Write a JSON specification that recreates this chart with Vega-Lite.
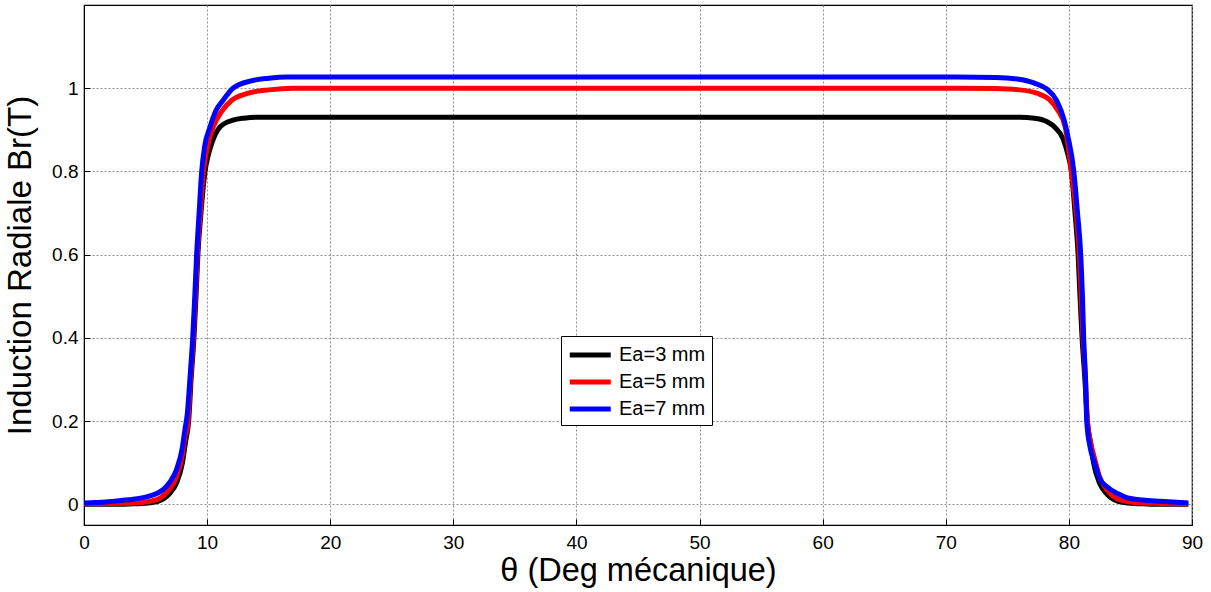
{
  "$schema": "https://vega.github.io/schema/vega-lite/v6.json",
  "width": 1108,
  "height": 520,
  "autosize": "none",
  "padding": {"left": 84, "top": 5, "right": 19, "bottom": 67},
  "background": "white",
  "config": {
    "font": "Liberation Sans",
    "view": {"stroke": "black", "strokeWidth": 1.2}
  },
  "data": {"values": [
    {"t": 0, "b": 0.0, "s": "Ea=3 mm"}, {"t": 3, "b": 0.0, "s": "Ea=3 mm"}, {"t": 4, "b": 0.001, "s": "Ea=3 mm"}, {"t": 5, "b": 0.002, "s": "Ea=3 mm"}, {"t": 5.5, "b": 0.004, "s": "Ea=3 mm"}, {"t": 6, "b": 0.007, "s": "Ea=3 mm"}, {"t": 6.5, "b": 0.014, "s": "Ea=3 mm"}, {"t": 7, "b": 0.027, "s": "Ea=3 mm"}, {"t": 7.5, "b": 0.05, "s": "Ea=3 mm"}, {"t": 8, "b": 0.1, "s": "Ea=3 mm"}, {"t": 8.25, "b": 0.15, "s": "Ea=3 mm"}, {"t": 8.5, "b": 0.2, "s": "Ea=3 mm"}, {"t": 8.7, "b": 0.3, "s": "Ea=3 mm"}, {"t": 8.93, "b": 0.4, "s": "Ea=3 mm"}, {"t": 9.1, "b": 0.5, "s": "Ea=3 mm"}, {"t": 9.25, "b": 0.6, "s": "Ea=3 mm"}, {"t": 9.5, "b": 0.7, "s": "Ea=3 mm"}, {"t": 9.83, "b": 0.8, "s": "Ea=3 mm"}, {"t": 10.1, "b": 0.84, "s": "Ea=3 mm"}, {"t": 10.37, "b": 0.867, "s": "Ea=3 mm"}, {"t": 11.05, "b": 0.907, "s": "Ea=3 mm"}, {"t": 12.1, "b": 0.923, "s": "Ea=3 mm"}, {"t": 13, "b": 0.928, "s": "Ea=3 mm"}, {"t": 14, "b": 0.93, "s": "Ea=3 mm"}, {"t": 20, "b": 0.93, "s": "Ea=3 mm"}, {"t": 30, "b": 0.93, "s": "Ea=3 mm"}, {"t": 40, "b": 0.93, "s": "Ea=3 mm"}, {"t": 50, "b": 0.93, "s": "Ea=3 mm"}, {"t": 60, "b": 0.93, "s": "Ea=3 mm"}, {"t": 70, "b": 0.93, "s": "Ea=3 mm"}, {"t": 76, "b": 0.93, "s": "Ea=3 mm"}, {"t": 77.2, "b": 0.928, "s": "Ea=3 mm"}, {"t": 78.2, "b": 0.92, "s": "Ea=3 mm"}, {"t": 78.9, "b": 0.905, "s": "Ea=3 mm"}, {"t": 79.5, "b": 0.88, "s": "Ea=3 mm"}, {"t": 79.9, "b": 0.843, "s": "Ea=3 mm"}, {"t": 80.2, "b": 0.8, "s": "Ea=3 mm"}, {"t": 80.5, "b": 0.7, "s": "Ea=3 mm"}, {"t": 80.75, "b": 0.6, "s": "Ea=3 mm"}, {"t": 80.9, "b": 0.5, "s": "Ea=3 mm"}, {"t": 81.07, "b": 0.4, "s": "Ea=3 mm"}, {"t": 81.3, "b": 0.3, "s": "Ea=3 mm"}, {"t": 81.5, "b": 0.2, "s": "Ea=3 mm"}, {"t": 81.75, "b": 0.15, "s": "Ea=3 mm"}, {"t": 82, "b": 0.1, "s": "Ea=3 mm"}, {"t": 82.5, "b": 0.05, "s": "Ea=3 mm"}, {"t": 83, "b": 0.027, "s": "Ea=3 mm"}, {"t": 83.5, "b": 0.014, "s": "Ea=3 mm"}, {"t": 84, "b": 0.007, "s": "Ea=3 mm"}, {"t": 84.5, "b": 0.004, "s": "Ea=3 mm"}, {"t": 85, "b": 0.002, "s": "Ea=3 mm"}, {"t": 86, "b": 0.001, "s": "Ea=3 mm"}, {"t": 87, "b": 0.0, "s": "Ea=3 mm"}, {"t": 89.7, "b": 0.0, "s": "Ea=3 mm"},

    {"t": 0, "b": 0.001, "s": "Ea=5 mm"}, {"t": 3, "b": 0.002, "s": "Ea=5 mm"}, {"t": 4, "b": 0.003, "s": "Ea=5 mm"}, {"t": 5, "b": 0.005, "s": "Ea=5 mm"}, {"t": 5.5, "b": 0.008, "s": "Ea=5 mm"}, {"t": 6, "b": 0.012, "s": "Ea=5 mm"}, {"t": 6.5, "b": 0.022, "s": "Ea=5 mm"}, {"t": 7, "b": 0.038, "s": "Ea=5 mm"}, {"t": 7.5, "b": 0.065, "s": "Ea=5 mm"}, {"t": 8, "b": 0.12, "s": "Ea=5 mm"}, {"t": 8.2, "b": 0.16, "s": "Ea=5 mm"}, {"t": 8.45, "b": 0.2, "s": "Ea=5 mm"}, {"t": 8.65, "b": 0.3, "s": "Ea=5 mm"}, {"t": 8.88, "b": 0.4, "s": "Ea=5 mm"}, {"t": 9.05, "b": 0.5, "s": "Ea=5 mm"}, {"t": 9.2, "b": 0.6, "s": "Ea=5 mm"}, {"t": 9.45, "b": 0.7, "s": "Ea=5 mm"}, {"t": 9.7, "b": 0.8, "s": "Ea=5 mm"}, {"t": 10.0, "b": 0.855, "s": "Ea=5 mm"}, {"t": 10.5, "b": 0.907, "s": "Ea=5 mm"}, {"t": 11.2, "b": 0.945, "s": "Ea=5 mm"}, {"t": 12.0, "b": 0.971, "s": "Ea=5 mm"}, {"t": 13.2, "b": 0.987, "s": "Ea=5 mm"}, {"t": 15, "b": 0.996, "s": "Ea=5 mm"}, {"t": 17, "b": 1.0, "s": "Ea=5 mm"}, {"t": 20, "b": 1.0, "s": "Ea=5 mm"}, {"t": 30, "b": 1.0, "s": "Ea=5 mm"}, {"t": 40, "b": 1.0, "s": "Ea=5 mm"}, {"t": 50, "b": 1.0, "s": "Ea=5 mm"}, {"t": 60, "b": 1.0, "s": "Ea=5 mm"}, {"t": 70, "b": 1.0, "s": "Ea=5 mm"}, {"t": 74, "b": 0.999, "s": "Ea=5 mm"}, {"t": 76, "b": 0.996, "s": "Ea=5 mm"}, {"t": 77.4, "b": 0.988, "s": "Ea=5 mm"}, {"t": 78.4, "b": 0.973, "s": "Ea=5 mm"}, {"t": 79.1, "b": 0.947, "s": "Ea=5 mm"}, {"t": 79.7, "b": 0.907, "s": "Ea=5 mm"}, {"t": 79.95, "b": 0.86, "s": "Ea=5 mm"}, {"t": 80.2, "b": 0.8, "s": "Ea=5 mm"}, {"t": 80.6, "b": 0.7, "s": "Ea=5 mm"}, {"t": 80.85, "b": 0.6, "s": "Ea=5 mm"}, {"t": 81.0, "b": 0.5, "s": "Ea=5 mm"}, {"t": 81.15, "b": 0.4, "s": "Ea=5 mm"}, {"t": 81.35, "b": 0.3, "s": "Ea=5 mm"}, {"t": 81.5, "b": 0.2, "s": "Ea=5 mm"}, {"t": 81.75, "b": 0.15, "s": "Ea=5 mm"}, {"t": 82.0, "b": 0.12, "s": "Ea=5 mm"}, {"t": 82.5, "b": 0.065, "s": "Ea=5 mm"}, {"t": 83.0, "b": 0.038, "s": "Ea=5 mm"}, {"t": 83.5, "b": 0.022, "s": "Ea=5 mm"}, {"t": 84, "b": 0.012, "s": "Ea=5 mm"}, {"t": 84.5, "b": 0.008, "s": "Ea=5 mm"}, {"t": 85, "b": 0.005, "s": "Ea=5 mm"}, {"t": 86, "b": 0.003, "s": "Ea=5 mm"}, {"t": 87, "b": 0.002, "s": "Ea=5 mm"}, {"t": 89.7, "b": 0.001, "s": "Ea=5 mm"},

    {"t": 0, "b": 0.003, "s": "Ea=7 mm"}, {"t": 1, "b": 0.004, "s": "Ea=7 mm"}, {"t": 2, "b": 0.006, "s": "Ea=7 mm"}, {"t": 3, "b": 0.009, "s": "Ea=7 mm"}, {"t": 4, "b": 0.012, "s": "Ea=7 mm"}, {"t": 5, "b": 0.017, "s": "Ea=7 mm"}, {"t": 5.5, "b": 0.021, "s": "Ea=7 mm"}, {"t": 6, "b": 0.027, "s": "Ea=7 mm"}, {"t": 6.5, "b": 0.037, "s": "Ea=7 mm"}, {"t": 7, "b": 0.054, "s": "Ea=7 mm"}, {"t": 7.5, "b": 0.082, "s": "Ea=7 mm"}, {"t": 8, "b": 0.138, "s": "Ea=7 mm"}, {"t": 8.2, "b": 0.18, "s": "Ea=7 mm"}, {"t": 8.4, "b": 0.22, "s": "Ea=7 mm"}, {"t": 8.6, "b": 0.3, "s": "Ea=7 mm"}, {"t": 8.83, "b": 0.4, "s": "Ea=7 mm"}, {"t": 9.0, "b": 0.5, "s": "Ea=7 mm"}, {"t": 9.15, "b": 0.6, "s": "Ea=7 mm"}, {"t": 9.35, "b": 0.7, "s": "Ea=7 mm"}, {"t": 9.56, "b": 0.8, "s": "Ea=7 mm"}, {"t": 9.8, "b": 0.86, "s": "Ea=7 mm"}, {"t": 10.24, "b": 0.907, "s": "Ea=7 mm"}, {"t": 10.7, "b": 0.945, "s": "Ea=7 mm"}, {"t": 11.3, "b": 0.971, "s": "Ea=7 mm"}, {"t": 12.1, "b": 1.0, "s": "Ea=7 mm"}, {"t": 13.5, "b": 1.017, "s": "Ea=7 mm"}, {"t": 15, "b": 1.024, "s": "Ea=7 mm"}, {"t": 16.5, "b": 1.027, "s": "Ea=7 mm"}, {"t": 20, "b": 1.027, "s": "Ea=7 mm"}, {"t": 30, "b": 1.027, "s": "Ea=7 mm"}, {"t": 40, "b": 1.027, "s": "Ea=7 mm"}, {"t": 50, "b": 1.027, "s": "Ea=7 mm"}, {"t": 60, "b": 1.027, "s": "Ea=7 mm"}, {"t": 70, "b": 1.027, "s": "Ea=7 mm"}, {"t": 74, "b": 1.026, "s": "Ea=7 mm"}, {"t": 75.8, "b": 1.022, "s": "Ea=7 mm"}, {"t": 77.2, "b": 1.012, "s": "Ea=7 mm"}, {"t": 78.2, "b": 0.998, "s": "Ea=7 mm"}, {"t": 79.0, "b": 0.971, "s": "Ea=7 mm"}, {"t": 79.6, "b": 0.925, "s": "Ea=7 mm"}, {"t": 79.95, "b": 0.88, "s": "Ea=7 mm"}, {"t": 80.4, "b": 0.8, "s": "Ea=7 mm"}, {"t": 80.7, "b": 0.7, "s": "Ea=7 mm"}, {"t": 80.96, "b": 0.6, "s": "Ea=7 mm"}, {"t": 81.1, "b": 0.5, "s": "Ea=7 mm"}, {"t": 81.2, "b": 0.4, "s": "Ea=7 mm"}, {"t": 81.35, "b": 0.3, "s": "Ea=7 mm"}, {"t": 81.45, "b": 0.2, "s": "Ea=7 mm"}, {"t": 81.7, "b": 0.14, "s": "Ea=7 mm"}, {"t": 82.1, "b": 0.098, "s": "Ea=7 mm"}, {"t": 82.5, "b": 0.062, "s": "Ea=7 mm"}, {"t": 83.1, "b": 0.042, "s": "Ea=7 mm"}, {"t": 84, "b": 0.025, "s": "Ea=7 mm"}, {"t": 84.7, "b": 0.016, "s": "Ea=7 mm"}, {"t": 86, "b": 0.01, "s": "Ea=7 mm"}, {"t": 87.4, "b": 0.007, "s": "Ea=7 mm"}, {"t": 89.7, "b": 0.003, "s": "Ea=7 mm"}
  ]},
  "layer": [
    {
      "mark": {"type": "line", "strokeWidth": 5, "interpolate": "monotone", "clip": true},
      "encoding": {
        "x": {"field": "t", "type": "quantitative",
          "scale": {"domain": [0, 90], "nice": false, "zero": false},
          "axis": {"title": "θ (Deg mécanique)", "values": [0,10,20,30,40,50,60,70,80,90],
            "titleFontSize": 32.5, "titleFontWeight": "normal", "titleColor": "black", "titlePadding": 2,
            "labelFontSize": 19, "labelColor": "black", "labelPadding": 14,
            "tickSize": -6, "tickColor": "black", "domainColor": "black",
            "grid": true, "gridColor": "#8c8c8c", "gridDash": [2, 2], "gridOpacity": 1, "labelFlush": false}},
        "y": {"field": "b", "type": "quantitative",
          "scale": {"domain": [-0.05, 1.2], "nice": false, "zero": false},
          "axis": {"title": "Induction Radiale Br(T)", "values": [0,0.2,0.4,0.6,0.8,1], "format": "~g",
            "titleFontSize": 33, "titleFontWeight": "normal", "titleColor": "black", "titlePadding": 14,
            "labelFontSize": 19, "labelColor": "black", "labelPadding": 12,
            "tickSize": -6, "tickColor": "black", "domainColor": "black",
            "grid": true, "gridColor": "#8c8c8c", "gridDash": [2, 2], "gridOpacity": 1, "labelFlush": false}},
        "color": {"field": "s", "type": "nominal",
          "scale": {"domain": ["Ea=3 mm", "Ea=5 mm", "Ea=7 mm"], "range": ["#000000", "#ff0000", "#0000ff"]},
          "legend": {"title": null, "orient": "none", "legendX": 477, "legendY": 331,
            "symbolType": "M-1,0H3", "symbolStrokeWidth": 5, "symbolSize": 420,
            "labelFontSize": 20, "labelColor": "black", "labelOffset": 26,
            "strokeColor": "black", "fillColor": "white", "padding": 6, "rowPadding": 4}}
      }
    }
  ]
}
